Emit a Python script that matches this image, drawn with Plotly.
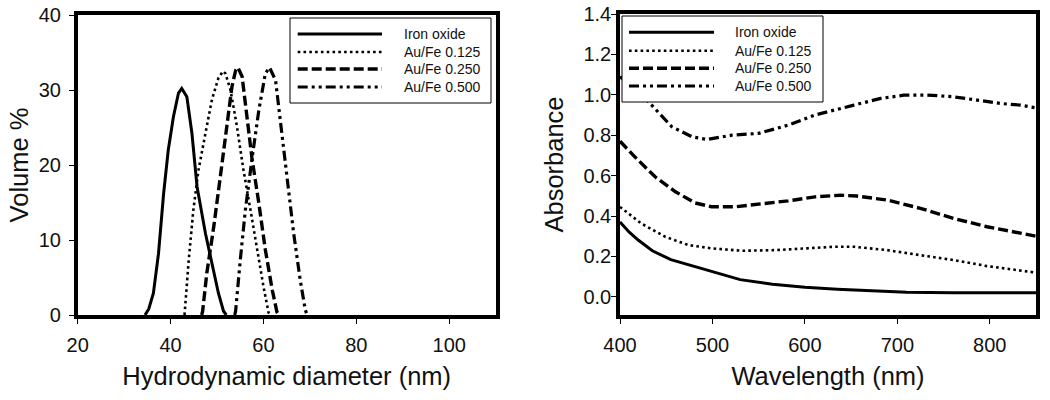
import plotly.graph_objects as go

W, H = 1050, 400

series_names = ["Iron oxide", "Au/Fe 0.125", "Au/Fe 0.250", "Au/Fe 0.500"]

# ---- Left panel: DLS volume distribution ----
dls_iron_x = [34.5, 35.3, 36.3, 37.4, 38.5, 39.5, 40.6, 41.7, 42.4, 43.5, 44.6, 45.7, 47.5, 48.9, 50.3, 51.4, 52.0]
dls_iron_y = [0, 0.8, 2.9, 8.2, 16.2, 22.0, 26.4, 29.6, 30.2, 29.1, 24.2, 17.1, 10.9, 6.9, 2.9, 0.5, 0]

dls_125_x = [43.0, 43.3, 43.9, 44.9, 46.0, 47.5, 48.9, 50.3, 51.3, 51.8, 52.9, 54.3, 55.7, 57.2, 58.6, 60.0, 61.1, 61.5]
dls_125_y = [0, 2.5, 7.3, 14.0, 19.3, 24.2, 28.7, 31.6, 32.5, 32.2, 30.0, 25.1, 19.3, 14.0, 8.7, 3.8, 0.3, 0]

dls_250_x = [46.7, 46.9, 47.8, 49.3, 50.7, 52.1, 53.2, 54.0, 54.5, 55.4, 56.3, 57.5, 59.0, 60.4, 61.9, 62.9, 63.3]
dls_250_y = [0, 0.5, 5.6, 11.8, 18.4, 25.1, 30.4, 32.6, 33.0, 31.8, 27.0, 21.0, 14.9, 8.7, 3.3, 0.4, 0]

dls_500_x = [53.8, 54.0, 55.0, 56.1, 57.5, 59.0, 60.4, 61.3, 62.6, 63.6, 65.1, 66.5, 67.9, 69.0, 69.4]
dls_500_y = [0, 0.5, 7.3, 14.0, 20.7, 27.3, 32.2, 33.0, 31.3, 26.0, 18.4, 10.9, 4.7, 0.7, 0]

# ---- Right panel: UV-vis absorbance ----
uv_iron_x = [400, 410, 420, 435, 455, 480, 500, 530, 565, 600, 635, 670, 710, 760, 800, 850]
uv_iron_y = [0.37, 0.32, 0.28, 0.228, 0.184, 0.151, 0.122, 0.085, 0.062, 0.047, 0.037, 0.029, 0.022, 0.020, 0.020, 0.020]

uv_125_x = [400, 423, 449, 474, 499, 532, 568, 604, 633, 653, 689, 725, 761, 797, 826, 850]
uv_125_y = [0.445, 0.363, 0.297, 0.256, 0.240, 0.228, 0.231, 0.240, 0.248, 0.248, 0.231, 0.206, 0.182, 0.152, 0.136, 0.120]

uv_250_x = [400, 416, 438, 460, 481, 499, 525, 550, 582, 611, 638, 656, 689, 725, 761, 797, 826, 850]
uv_250_y = [0.77, 0.693, 0.594, 0.520, 0.465, 0.446, 0.446, 0.459, 0.475, 0.495, 0.503, 0.499, 0.479, 0.438, 0.388, 0.347, 0.322, 0.300]

uv_500_x = [400, 415, 431, 456, 478, 494, 521, 550, 582, 611, 633, 653, 682, 707, 732, 761, 786, 812, 833, 850]
uv_500_y = [1.09, 1.03, 0.965, 0.842, 0.792, 0.779, 0.800, 0.809, 0.850, 0.900, 0.924, 0.949, 0.982, 0.998, 0.999, 0.990, 0.974, 0.957, 0.949, 0.935]

dls_x_ticks = [20, 40, 60, 80, 100]
dls_y_ticks = [0, 10, 20, 30, 40]
uv_x_ticks = [400, 500, 600, 700, 800]
uv_y_ticks = [0.0, 0.2, 0.4, 0.6, 0.8, 1.0, 1.2, 1.4]

FONT = "Liberation Sans, Arial, sans-serif"
styles = [
    dict(width=3, dash="solid"),
    dict(width=2.6, dash="2.6px,3.2px"),
    dict(width=3.4, dash="10px,4px"),
    dict(width=3.2, dash="10px,4px,3px,4px,3px,4px"),
]

dls_data = [(dls_iron_x, dls_iron_y), (dls_125_x, dls_125_y), (dls_250_x, dls_250_y), (dls_500_x, dls_500_y)]
uv_data = [(uv_iron_x, uv_iron_y), (uv_125_x, uv_125_y), (uv_250_x, uv_250_y), (uv_500_x, uv_500_y)]

fig = go.Figure()
for name, (x, y), st in zip(series_names, dls_data, styles):
    fig.add_trace(go.Scatter(x=x, y=y, mode="lines", name=name, showlegend=False,
                             line=dict(color="black", width=st["width"], dash=st["dash"]),
                             xaxis="x", yaxis="y"))
for name, (x, y), st in zip(series_names, uv_data, styles):
    fig.add_trace(go.Scatter(x=x, y=y, mode="lines", name=name, showlegend=False,
                             line=dict(color="black", width=st["width"], dash=st["dash"]),
                             xaxis="x2", yaxis="y2"))


def px_x(p):
    return p / W


def px_y(p):
    return 1 - p / H


axis_common = dict(
    showline=True, linecolor="black", linewidth=3.5, mirror=True,
    ticks="outside", ticklen=5, tickwidth=1, tickcolor="black",
    showgrid=False, zeroline=False,
    tickfont=dict(family=FONT, size=20, color="#111"),
    title_font=dict(family=FONT, size=25.5, color="#111"),
    automargin=False,
)

fig.update_layout(
    width=W, height=H,
    margin=dict(l=0, r=0, t=0, b=0),
    paper_bgcolor="white", plot_bgcolor="white",
    showlegend=False,
    xaxis=dict(axis_common, domain=[px_x(77.7), px_x(495.7)], range=[20, 110],
               tickvals=dls_x_ticks, anchor="y", ticklabelstandoff=4,
               title=dict(text="Hydrodynamic diameter (nm)", standoff=13)),
    yaxis=dict(axis_common, domain=[px_y(315), px_y(15)], range=[0, 40],
               tickvals=dls_y_ticks, anchor="x", ticklabelstandoff=4,
               title=dict(text="Volume %", standoff=4)),
    xaxis2=dict(axis_common, domain=[px_x(620), px_x(1036)], range=[400, 850],
                tickvals=uv_x_ticks, anchor="y2", ticklabelstandoff=4,
                title=dict(text="Wavelength (nm)", standoff=13)),
    yaxis2=dict(axis_common, domain=[px_y(315), px_y(14)], range=[-0.09, 1.4],
                tickvals=uv_y_ticks, tickformat=".1f", anchor="x2", ticklabelstandoff=-4,
                title=dict(text="Absorbance", standoff=14)),
)

# ---- Legend boxes (one per panel) ----
legend_specs = [
    dict(box=(290, 18, 491, 103), line=(297.7, 382), text_x=401.7, rows=[34, 52, 69, 87]),
    dict(box=(622, 16, 823, 102), line=(629, 714), text_x=733, rows=[32.3, 50.7, 68.3, 86]),
]
for spec in legend_specs:
    x0, y0, x1, y1 = spec["box"]
    fig.add_shape(type="rect", xref="paper", yref="paper",
                  x0=px_x(x0), x1=px_x(x1), y0=px_y(y1), y1=px_y(y0),
                  line=dict(color="black", width=1), fillcolor="white", layer="above")
    for name, st, ry in zip(series_names, styles, spec["rows"]):
        fig.add_shape(type="line", xref="paper", yref="paper",
                      x0=px_x(spec["line"][0]), x1=px_x(spec["line"][1]),
                      y0=px_y(ry), y1=px_y(ry),
                      line=dict(color="black", width=st["width"], dash=st["dash"]), layer="above")
        fig.add_annotation(xref="paper", yref="paper", x=px_x(spec["text_x"]), y=px_y(ry),
                           text=name, showarrow=False, xanchor="left", yanchor="middle",
                           font=dict(family=FONT, size=14, color="#111"))

fig.write_html("out.html", config={"displayModeBar": False},
               post_script="document.body.style.margin='0px';document.body.style.padding='0px';")
